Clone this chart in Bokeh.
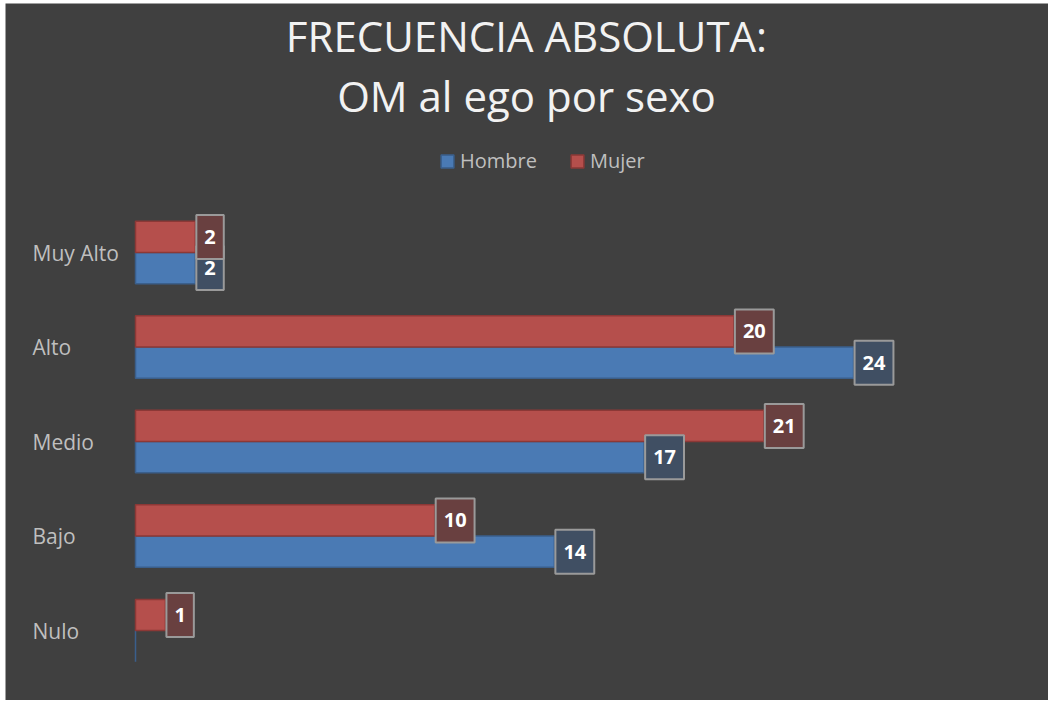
from bokeh.plotting import figure
from bokeh.models import ColumnDataSource, Range1d, Label, Legend, LegendItem
from bokeh.transform import dodge
from bokeh.core.properties import value
from bokeh.embed import file_html
from bokeh.resources import INLINE

# ---- data ----
categories = ["Muy Alto", "Alto", "Medio", "Bajo", "Nulo"]
hombre = [2, 24, 17, 14, 0]
mujer = [2, 20, 21, 10, 1]
series_names = ["Hombre", "Mujer"]
title_lines = ["FRECUENCIA ABSOLUTA:", "OM al ego por sexo"]

# ---- style ----
BG = "#404040"
BLUE = "#4a7ab4"
BLUE_EDGE = "#3a5f8c"
RED = "#b54f4c"
RED_EDGE = "#8c3836"
BLUE_BOX = "#404f63"
RED_BOX = "#694040"
BOX_EDGE = "#9a9a9a"
LABEL_GRAY = "#bfbfbf"
FONT = "Open Sans"

n = len(categories)
ypos = [n - i for i in range(n)]  # top category highest

src = ColumnDataSource(dict(cat=categories, y=ypos, hombre=hombre, mujer=mujer))
h_lbl = ColumnDataSource(dict(
    y=[yy for yy, v in zip(ypos, hombre) if v],
    val=[v for v in hombre if v],
    txt=[str(v) for v in hombre if v]))
m_lbl = ColumnDataSource(dict(
    y=[yy for yy, v in zip(ypos, mujer) if v],
    val=[v for v in mujer if v],
    txt=[str(v) for v in mujer if v]))

W, H = 1043, 697
p = figure(
    x_range=Range1d(-4.345, 30.515),
    y_range=Range1d(0.26, 7.635),
    width=W, height=H,
    output_backend="svg", toolbar_location=None,
    background_fill_color=BG, border_fill_color=BG,
    min_border_left=0, min_border_right=0,
    min_border_top=0, min_border_bottom=0,
    margin=(3, 0, 0, 5),
)
p.outline_line_color = None
p.outline_line_alpha = 0
p.xaxis.visible = False
p.yaxis.visible = False
p.xgrid.visible = False
p.ygrid.visible = False

off = 0.165
bh = 0.33
rh = p.hbar(y=dodge("y", -off), left=0, right="hombre", height=bh,
            source=src, fill_color=BLUE, line_color=BLUE_EDGE, line_width=1.5)
rm = p.hbar(y=dodge("y", off), left=0, right="mujer", height=bh,
            source=src, fill_color=RED, line_color=RED_EDGE, line_width=1.5)

common = dict(x_offset=1, text_align="left", text_baseline="middle",
              text_font=value(FONT), text_font_size="20px", text_font_style="bold",
              text_color="white", border_line_color=BOX_EDGE, border_line_width=2,
              padding=(8, 8, 15, 15))
p.text(x="val", y=dodge("y", -off), text="txt", source=h_lbl,
       background_fill_color=BLUE_BOX, **common)
p.text(x="val", y=dodge("y", off), text="txt", source=m_lbl,
       background_fill_color=RED_BOX, **common)

# category labels (left aligned, left of the zero line)
p.text(x=0, y="y", text="cat", source=src, x_offset=-103,
       text_align="left", text_baseline="middle",
       text_font=value(FONT), text_font_size="21px", text_color=LABEL_GRAY)

for i, t in enumerate(title_lines):
    p.add_layout(Label(x=521, y=665 - 60 * i, x_units="screen", y_units="screen",
                       text=t, text_align="center", text_baseline="middle",
                       text_font=FONT, text_font_size="42px", text_color="#f2f2f2"))

legend = Legend(items=[LegendItem(label=series_names[0], renderers=[rh]),
                       LegendItem(label=series_names[1], renderers=[rm])],
                location=(434, 526), orientation="horizontal",
                padding=0, margin=0, spacing=32, label_standoff=5,
                glyph_width=16, glyph_height=16,
                label_text_font=FONT, label_text_font_size="20px",
                label_text_color=LABEL_GRAY,
                background_fill_alpha=0, border_line_color=None)
p.add_layout(legend, "center")

open("out.html", "w").write(file_html(p, INLINE))
